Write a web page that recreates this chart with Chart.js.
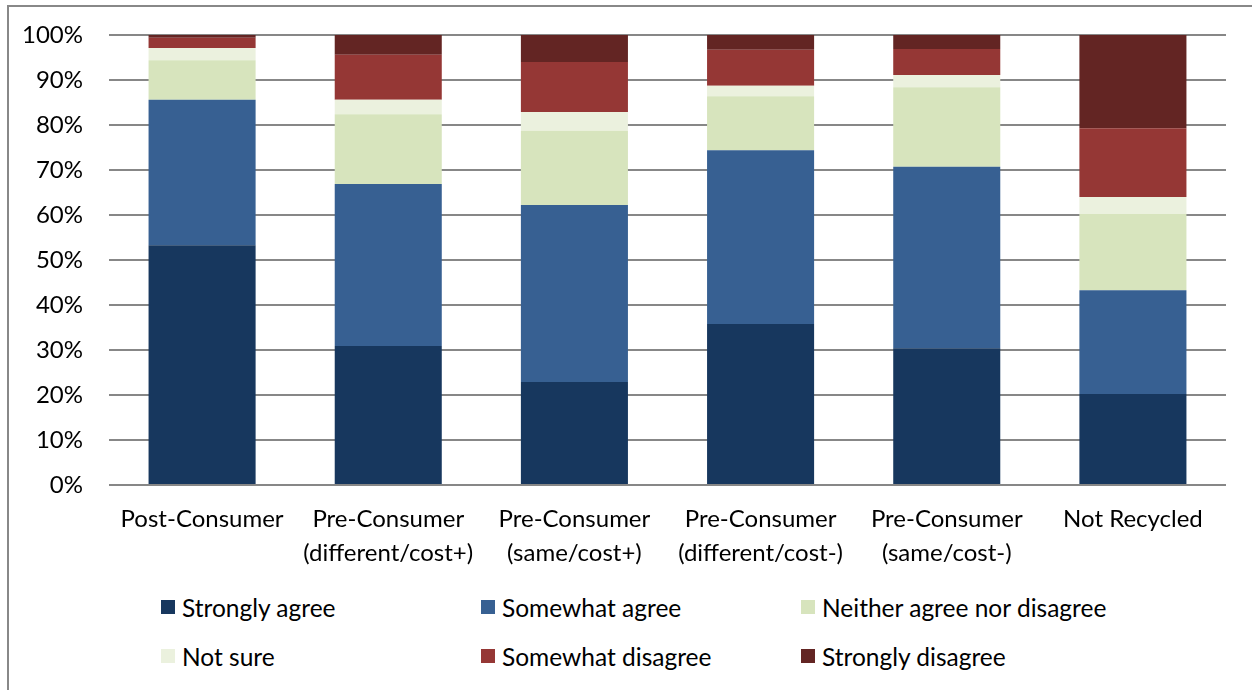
<!DOCTYPE html>
<html>
<head>
<meta charset="utf-8">
<script src="https://cdn.jsdelivr.net/npm/chart.js@4.4.0/dist/chart.umd.min.js"></script>
<style>
  html, body { margin: 0; padding: 0; background: #fff; }
  body { width: 1252px; height: 690px; position: relative; overflow: hidden; font-family: Lato, sans-serif; }
  #frame { position: absolute; left: 7px; top: 5px; width: 1300px; height: 700px; border-top: 2px solid #888; border-left: 2px solid #888; }
  #wrap { position: absolute; left: 0; top: 0; width: 1252px; height: 570px; }
  #legend { position: absolute; left: 161px; top: 590px; width: 960px; }
  .item { position: absolute; height: 34px; display: flex; align-items: center; font-size: 24.5px; color: #000; white-space: nowrap; }
  .item span.box { display: inline-block; width: 14px; height: 14px; margin-right: 7px; }
</style>
</head>
<body>
<div id="frame"></div>
<div id="wrap"><canvas id="chart" width="1252" height="570"></canvas></div>
<div id="legend"></div>
<script>
// recycling types along the x axis
const categories = [
  "Post-Consumer",
  ["Pre-Consumer", "(different/cost+)"],
  ["Pre-Consumer", "(same/cost+)"],
  ["Pre-Consumer", "(different/cost-)"],
  ["Pre-Consumer", "(same/cost-)"],
  "Not Recycled"
];

// answer shares in percent, one array per answer
const stronglyAgree    = [53.3, 30.9, 22.9, 35.8, 30.4, 20.2];
const somewhatAgree    = [32.3, 36.0, 39.3, 38.6, 40.3, 23.1];
const neither          = [8.8, 15.5, 16.5, 12.0, 17.7, 16.9];
const notSure          = [2.7, 3.2, 4.2, 2.3, 2.7, 3.8];
const somewhatDisagree = [2.3, 10.0, 11.1, 8.0, 5.8, 15.3];
const stronglyDisagree = [0.6, 4.4, 6.0, 3.3, 3.1, 20.7];

const yTicks = [0, 10, 20, 30, 40, 50, 60, 70, 80, 90, 100];

const series = [
  { label: "Strongly agree", data: stronglyAgree, color: "#17375e" },
  { label: "Somewhat agree", data: somewhatAgree, color: "#376092" },
  { label: "Neither agree nor disagree", data: neither, color: "#d7e4bd" },
  { label: "Not sure", data: notSure, color: "#ebf1de" },
  { label: "Somewhat disagree", data: somewhatDisagree, color: "#953735" },
  { label: "Strongly disagree", data: stronglyDisagree, color: "#632523" }
];

const font = { family: "Lato, sans-serif", size: 24 };

new Chart(document.getElementById("chart"), {
  type: "bar",
  data: {
    labels: categories,
    datasets: series.map((s) => ({
      label: s.label,
      data: s.data,
      backgroundColor: s.color,
      borderWidth: 0,
      barPercentage: 0.575,
      categoryPercentage: 1
    }))
  },
  options: {
    responsive: false,
    animation: false,
    layout: { padding: { top: 35, right: 26, left: 0, bottom: 0 } },
    plugins: { legend: { display: false }, tooltip: { enabled: false } },
    scales: {
      x: {
        stacked: true,
        grid: { display: false, drawTicks: false },
        border: { display: false },
        ticks: { color: "#000", font: { ...font, lineHeight: 34 / 24 }, padding: 17, maxRotation: 0, autoSkip: false },
        afterFit: (scale) => { scale.height = 85; }
      },
      y: {
        stacked: true,
        min: 0,
        max: 100,
        afterBuildTicks: (scale) => { scale.ticks = yTicks.map((v) => ({ value: v })); },
        grid: { color: "#878787", lineWidth: 2, drawTicks: false },
        border: { display: false },
        ticks: { color: "#000", font: font, padding: 26, callback: (v) => v + "%" },
        afterFit: (scale) => {
          scale.width = 109;
          // keep the plot edges fixed, labels may overhang
          scale.paddingTop = 0;
          scale.paddingBottom = 0;
        }
      }
    }
  }
});

// legend in three columns, two rows
const legend = document.getElementById("legend");
series.forEach((s, i) => {
  const el = document.createElement("div");
  el.className = "item";
  el.style.left = (i % 3) * 320 + "px";
  el.style.top = Math.floor(i / 3) * 49 + "px";
  el.innerHTML = '<span class="box" style="background:' + s.color + '"></span>' + s.label;
  legend.appendChild(el);
});
</script>
</body>
</html>
